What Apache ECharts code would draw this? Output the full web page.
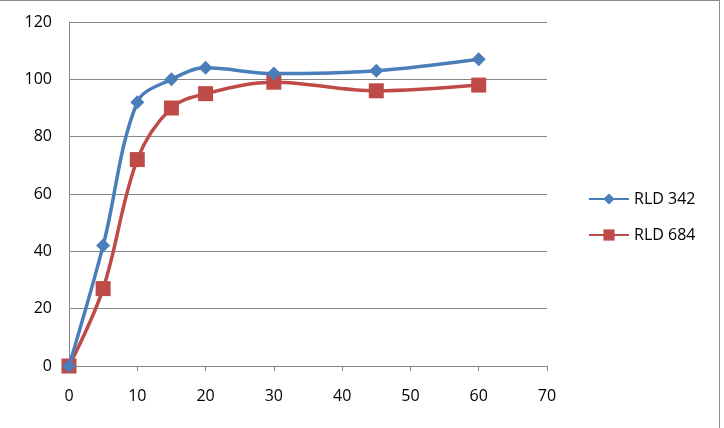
<!DOCTYPE html>
<html>
<head>
<meta charset="utf-8">
<script src="https://cdn.jsdelivr.net/npm/echarts@6/dist/echarts.min.js"></script>
<style>
  html, body { margin: 0; padding: 0; background: #fff; }
  #chart { width: 724px; height: 428px; }
  .frame { position: absolute; left: -2px; top: 0; width: 722px; height: 440px; border: 1px solid #8c8c8c; box-sizing: border-box; pointer-events: none; }
</style>
</head>
<body>
<div id="chart"></div>
<div class="frame"></div>
<script>
// time points
let xValues = [0, 5, 10, 15, 20, 30, 45, 60];
let rld342 = [0, 42, 92, 100, 104, 102, 103, 107];
let rld684 = [0, 27, 72, 90, 95, 99, 96, 98];
let seriesNames = ['RLD 342', 'RLD 684'];

function pairs (ys) {
  let out = [];
  for (let i = 0; i < xValues.length; i++) {
    out.push([xValues[i], ys[i]]);
  }
  return out;
}

let myChart = echarts.init(document.getElementById('chart'));
let font = 'Open Sans';
let option = {
  animation: false,
  textStyle: { fontFamily: font },
  grid: { left: 69, right: 177, top: 22, bottom: 62 },
  legend: {
    orient: 'vertical',
    left: 583,
    top: 186,
    itemWidth: 40,
    itemHeight: 14,
    itemGap: 20,
    textStyle: { fontFamily: font, fontSize: 16, color: '#000' },
    data: seriesNames
  },
  xAxis: {
    type: 'value',
    min: 0,
    max: 70,
    interval: 10,
    axisLine: { lineStyle: { color: '#868686', width: 1 } },
    axisTick: { show: true, inside: false, length: 5, lineStyle: { color: '#868686' } },
    axisLabel: { color: '#000', fontSize: 16, margin: 22 },
    splitLine: { show: false }
  },
  yAxis: {
    type: 'value',
    min: 0,
    max: 120,
    interval: 20,
    axisLine: { show: true, lineStyle: { color: '#868686', width: 1 } },
    axisTick: { show: false },
    axisLabel: { color: '#000', fontSize: 16, margin: 17 },
    splitLine: { lineStyle: { color: '#868686', width: 1 } }
  },
  series: [
    {
      name: seriesNames[0],
      type: 'line',
      data: pairs(rld342),
      smooth: 0.35,
      symbol: 'diamond',
      symbolSize: 14,
      lineStyle: { color: '#4a7ebb', width: 3.5 },
      itemStyle: { color: '#4a7ebb' },
      z: 3
    },
    {
      name: seriesNames[1],
      type: 'line',
      data: pairs(rld684),
      smooth: 0.35,
      symbol: 'rect',
      symbolSize: 15,
      lineStyle: { color: '#be4b48', width: 3.5 },
      itemStyle: { color: '#be4b48' },
      z: 2
    }
  ]
};
myChart.setOption(option);
</script>
</body>
</html>
